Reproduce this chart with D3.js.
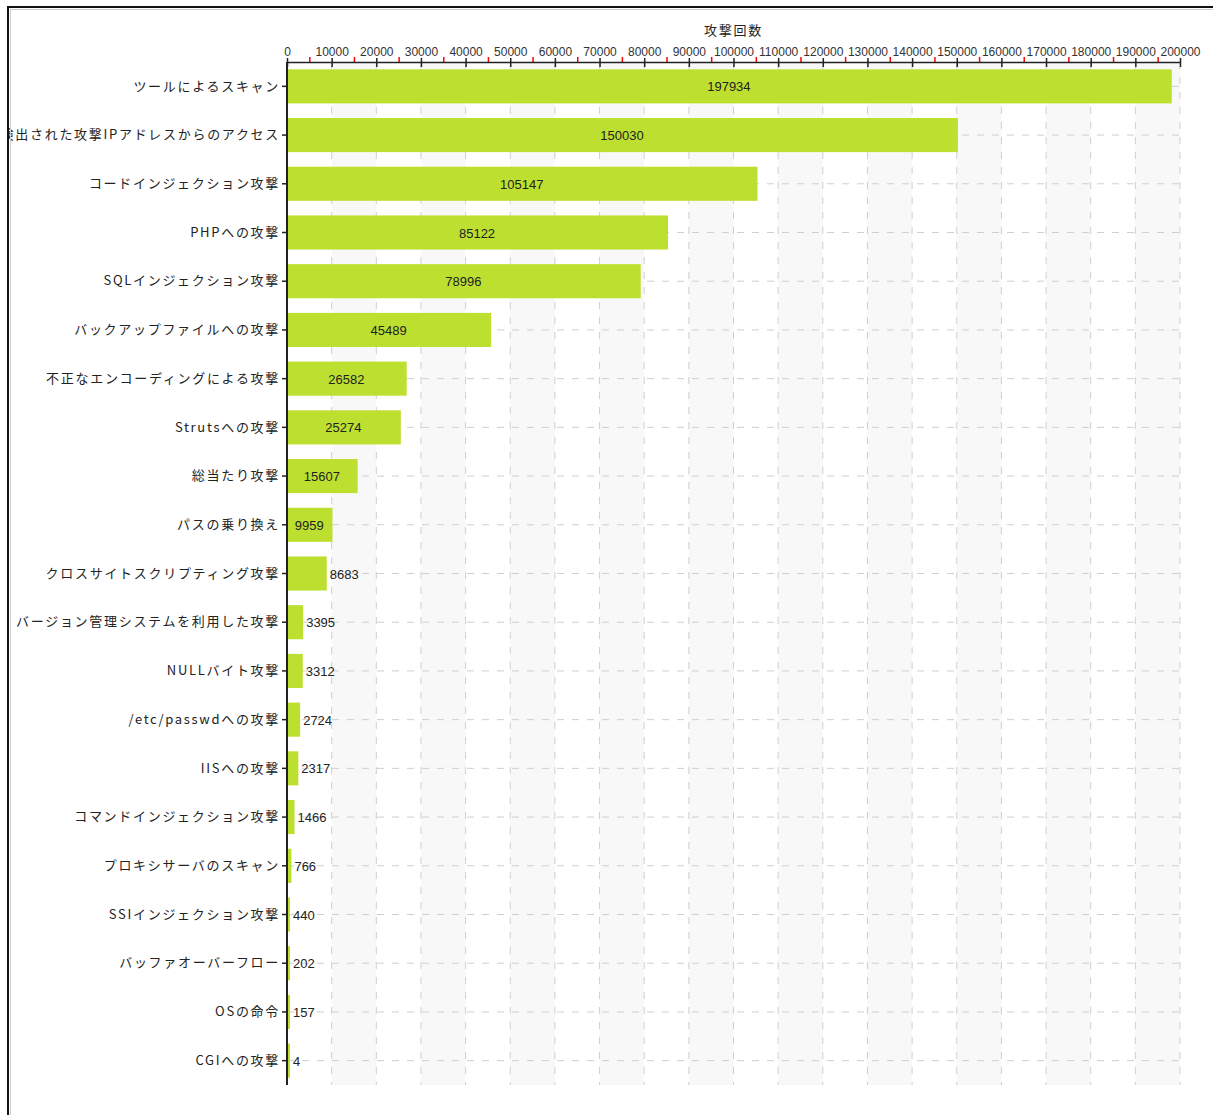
<!DOCTYPE html>
<html>
<head>
<meta charset="utf-8">
<script src="https://cdn.jsdelivr.net/npm/d3@7"></script>
<style>
  body { margin: 0; background: #fff; }
  .cat-label { font-family: "Noto Sans CJK JP", sans-serif; font-size: 13px; letter-spacing: 1.7px; fill: #222; }
  .val-label { font-family: "Liberation Sans", Arial, sans-serif; font-size: 13px; fill: #222; }
  .tick-label { font-family: "Liberation Sans Narrow", "Liberation Sans", sans-serif; font-size: 12px; fill: #333; }
</style>
</head>
<body>
<div id="chart"></div>
<script>
const categories = [
    "ツールによるスキャン",
    "検出された攻撃IPアドレスからのアクセス",
    "コードインジェクション攻撃",
    "PHPへの攻撃",
    "SQLインジェクション攻撃",
    "バックアップファイルへの攻撃",
    "不正なエンコーディングによる攻撃",
    "Strutsへの攻撃",
    "総当たり攻撃",
    "パスの乗り換え",
    "クロスサイトスクリプティング攻撃",
    "バージョン管理システムを利用した攻撃",
    "NULLバイト攻撃",
    "/etc/passwdへの攻撃",
    "IISへの攻撃",
    "コマンドインジェクション攻撃",
    "プロキシサーバのスキャン",
    "SSIインジェクション攻撃",
    "バッファオーバーフロー",
    "OSの命令",
    "CGIへの攻撃"
]
const attackCounts = [197934, 150030, 105147, 85122, 78996, 45489, 26582, 25274, 15607, 9959,
    8683, 3395, 3312, 2724, 2317, 1466, 766, 440, 202, 157, 4]
const majorTicks = d3.range(0, 200001, 10000)
const minorTicks = d3.range(5000, 200000, 10000)
const axisTitle = "攻撃回数"

const width = 1213
const height = 1115
const margin = { top: 62, right: 33, bottom: 30, left: 287 }
const plotRight = width - margin.right
const plotBottom = height - margin.bottom

const svg = d3.select("#chart").append("svg")
    .attr("width", width)
    .attr("height", height)

// frame clip (the long label gets cut by the frame on the left)
svg.append("clipPath").attr("id", "frame-clip")
    .append("rect").attr("x", 9).attr("y", 8).attr("width", width).attr("height", height)

const g = svg.append("g").attr("clip-path", "url(#frame-clip)")

const x = d3.scaleLinear().domain([0, 200000]).range([margin.left, plotRight])
const y = d3.scaleBand().domain(categories).range([margin.top, plotBottom]).paddingInner(0.3).paddingOuter(0.15)

// alternating background bands
g.append("g").selectAll("rect")
    .data(majorTicks.slice(0, -1).filter((d, i) => i % 2 === 1))
    .join("rect")
    .attr("x", d => x(d))
    .attr("y", margin.top)
    .attr("width", d => x(d + 10000) - x(d))
    .attr("height", plotBottom - margin.top)
    .attr("fill", "#f8f8f8")

// dashed grid
g.append("g").selectAll("line")
    .data(majorTicks.slice(1))
    .join("line")
    .attr("x1", d => x(d)).attr("x2", d => x(d))
    .attr("y1", margin.top).attr("y2", plotBottom)
    .attr("stroke", "#cfcfcf")
    .attr("stroke-dasharray", "7,8")

g.append("g").selectAll("line")
    .data(categories)
    .join("line")
    .attr("x1", margin.left).attr("x2", plotRight)
    .attr("y1", d => y(d) + y.bandwidth() / 2).attr("y2", d => y(d) + y.bandwidth() / 2)
    .attr("stroke", "#cfcfcf")
    .attr("stroke-dasharray", "7,8")

// bars
g.append("g").selectAll("rect")
    .data(attackCounts)
    .join("rect")
    .attr("x", x(0) + 1)
    .attr("y", (d, i) => y(categories[i]))
    .attr("width", d => Math.max(2, x(d) - x(0)))
    .attr("height", y.bandwidth())
    .attr("fill", "#bde030")

// value labels: centred when they fit, otherwise right of the bar
const vals = g.append("g").selectAll("text")
    .data(attackCounts)
    .join("text")
    .attr("class", "val-label")
    .attr("y", (d, i) => y(categories[i]) + y.bandwidth() / 2 + 5)
    .text(d => d)

vals.each(function (d) {
    const tw = this.getComputedTextLength()
    const bw = x(d) - x(0)
    if (bw > tw + 10) {
        d3.select(this).attr("x", x(0) + bw / 2).attr("text-anchor", "middle")
    } else {
        d3.select(this).attr("x", x(0) + Math.max(2, bw) + 4).attr("text-anchor", "start")
    }
})

// left axis
const yAxis = g.append("g")
    .attr("transform", `translate(${margin.left},0)`)
    .call(d3.axisLeft(y).tickSize(5).tickPadding(2))
yAxis.select(".domain").attr("d", `M0,${margin.top}V${plotBottom}`).attr("stroke", "#222").attr("stroke-width", 2)
yAxis.selectAll(".tick line").attr("stroke", "#222").attr("stroke-width", 1.5)
yAxis.selectAll(".tick text").attr("class", "cat-label").attr("font-size", null).attr("font-family", null).attr("fill", null)

// top axis: red minor ticks, black major ticks crossing the line
const minorAxis = g.append("g")
    .attr("transform", `translate(0,${margin.top})`)
    .call(d3.axisTop(x).tickValues(minorTicks).tickSize(5).tickFormat(""))
minorAxis.select(".domain").remove()
minorAxis.selectAll(".tick line").attr("stroke", "#f00").attr("stroke-width", 1.5)

const xAxis = g.append("g")
    .attr("transform", `translate(0,${margin.top})`)
    .call(d3.axisTop(x).tickValues(majorTicks).tickSize(4).tickSizeOuter(0).tickPadding(2).tickFormat(d3.format("d")))
xAxis.select(".domain").attr("stroke", "#222").attr("stroke-width", 1.5)
xAxis.selectAll(".tick line").attr("y2", -4).attr("y1", 5).attr("stroke", "#222").attr("stroke-width", 1.5)
xAxis.selectAll(".tick text").attr("class", "tick-label").attr("font-size", null).attr("font-family", null).attr("fill", null)

g.append("text")
    .attr("class", "cat-label")
    .attr("x", (margin.left + plotRight) / 2)
    .attr("y", 35)
    .attr("text-anchor", "middle")
    .text(axisTitle)

// frame
svg.append("rect")
    .attr("x", 10.5).attr("y", 9.5)
    .attr("width", width).attr("height", height)
    .attr("fill", "none").attr("stroke", "#ccc").attr("stroke-width", 1)
svg.append("rect")
    .attr("x", 8).attr("y", 7)
    .attr("width", width + 10).attr("height", height + 10)
    .attr("fill", "none").attr("stroke", "#111").attr("stroke-width", 2)
</script>
</body>
</html>
